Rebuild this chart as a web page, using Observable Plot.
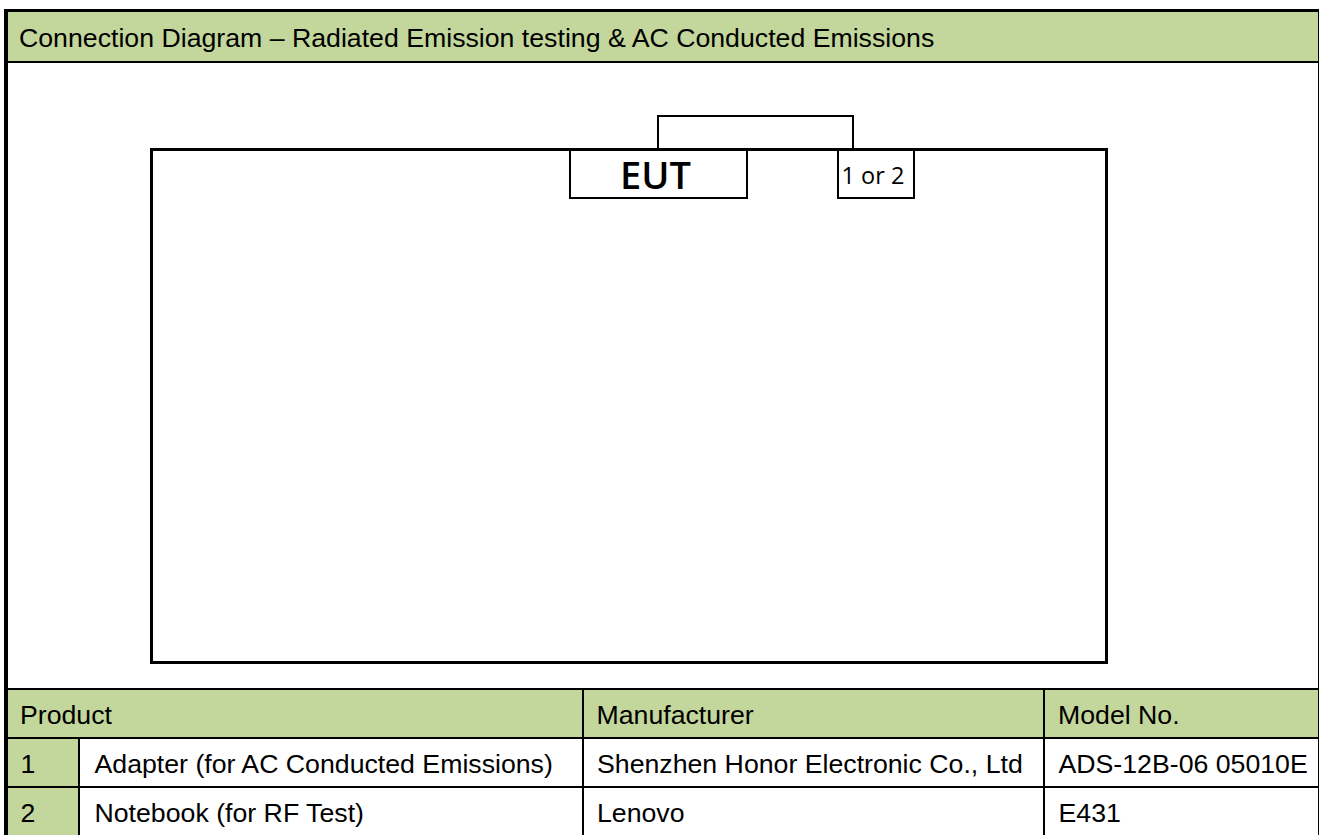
<!DOCTYPE html>
<html>
<head>
<meta charset="utf-8">
<script src="https://cdn.jsdelivr.net/npm/d3@7"></script>
<script src="https://cdn.jsdelivr.net/npm/@observablehq/plot@0.6"></script>
<style>
  html, body { margin: 0; padding: 0; background: #fff; overflow: hidden; }
  #chart svg { display: block; }
</style>
</head>
<body>
<div id="chart"></div>
<script>
// ---- DATA (text content) ----
const titleText = ["Connection Diagram – Radiated Emission testing & AC Conducted Emissions"];
const headers = ["Product", "Manufacturer", "Model No."];
const itemNos = ["1", "2"];
const products = ["Adapter (for AC Conducted Emissions)", "Notebook (for RF Test)"];
const manufacturers = ["Shenzhen Honor Electronic Co., Ltd", "Lenovo"];
const models = ["ADS-12B-06 05010E", "E431"];
const diagramLabels = ["EUT", "1 or 2"];

// ---- LAYOUT (pixel grid of the page) ----
const W = 1319, H = 835;
const GREEN = "#c3d69b";
const frame = {left: 4, leftW: 4, top: 9, topW: 3, right: 1318};
const titleBar = {y1: 12, y2: 61, lineW: 2};
const colEdges = [8, 78, 582, 1043, 1318];
const rowEdges = [688, 737, 786, 835];
const gridW = 2;
const bigBox = {x1: 150, x2: 1108, y1: 148, y2: 664, w: 3};
const eutBox = {x1: 569, x2: 748, y2: 199, w: 2};
const optBox = {x1: 837, x2: 915, y2: 199, w: 2};
const connector = {x1: 657, x2: 854, y: 115, w: 2};

const fills = [
  {x1: frame.left + frame.leftW, x2: frame.right, y1: titleBar.y1, y2: titleBar.y2},
  {x1: colEdges[0], x2: frame.right, y1: rowEdges[0], y2: rowEdges[1]},
  {x1: colEdges[0], x2: colEdges[1], y1: rowEdges[1], y2: H}
];

const lines = [];
const hl = (x1, x2, y, w) => lines.push({x1, x2, y1: y, y2: y + w});
const vl = (x, y1, y2, w) => lines.push({x1: x, x2: x + w, y1, y2});
hl(frame.left, W, frame.top, frame.topW);
vl(frame.left, frame.top, H, frame.leftW);
vl(frame.right, frame.top, H, 1);
hl(frame.left, W, titleBar.y2, titleBar.lineW);
rowEdges.slice(0, 3).forEach(y => hl(frame.left, W, y, gridW));
vl(colEdges[1], rowEdges[1], H, gridW);
vl(colEdges[2], rowEdges[0], H, gridW);
vl(colEdges[3], rowEdges[0], H, gridW);
hl(bigBox.x1, bigBox.x2, bigBox.y1, bigBox.w);
hl(bigBox.x1, bigBox.x2, bigBox.y2 - bigBox.w, bigBox.w);
vl(bigBox.x1, bigBox.y1, bigBox.y2, bigBox.w);
vl(bigBox.x2 - bigBox.w, bigBox.y1, bigBox.y2, bigBox.w);
[eutBox, optBox].forEach(b => {
  const top = bigBox.y1 + bigBox.w;
  vl(b.x1, top, b.y2, b.w);
  vl(b.x2 - b.w, top, b.y2, b.w);
  hl(b.x1, b.x2, b.y2 - b.w, b.w);
});
hl(connector.x1, connector.x2, connector.y, connector.w);
vl(connector.x1, connector.y, bigBox.y1, connector.w);
vl(connector.x2 - connector.w, connector.y, bigBox.y1, connector.w);

const FONT = "Liberation Sans, Arial, sans-serif";
const FS = 26.7;
const textRows = [
  {t: titleText[0], x: 18.5, y: 46.5},
  {t: headers[0], x: 19.5, y: 723},
  {t: headers[1], x: 596, y: 723},
  {t: headers[2], x: 1057.5, y: 723},
];
[0, 1].forEach(i => {
  const y = [772, 821.5][i];
  textRows.push({t: itemNos[i], x: 20, y});
  textRows.push({t: products[i], x: 94, y});
  textRows.push({t: manufacturers[i], x: 596.5, y});
  textRows.push({t: models[i], x: 1058, y});
});

const chart = Plot.plot({
  width: W,
  height: H,
  margin: 0,
  x: {domain: [0, W], range: [0, W], axis: null},
  y: {domain: [0, H], range: [0, H], axis: null},
  style: {background: "#fff"},
  marks: [
    Plot.rect(fills, {x1: "x1", x2: "x2", y1: "y1", y2: "y2", fill: GREEN}),
    Plot.rect(lines, {x1: "x1", x2: "x2", y1: "y1", y2: "y2", fill: "#000"}),
    Plot.text(textRows, {x: "x", y: "y", text: "t", textAnchor: "start", lineAnchor: "bottom",
      fontFamily: FONT, fontSize: FS, fill: "#000"}),
    Plot.text([diagramLabels[0]], {x: () => 655, y: () => 188, text: d => d, textAnchor: "middle",
      lineAnchor: "bottom", fontFamily: "Open Sans, sans-serif", fontWeight: 600, fontSize: 38, fill: "#000"}),
    Plot.text([diagramLabels[1]], {x: () => 841, y: () => 183, text: d => d, textAnchor: "start",
      lineAnchor: "bottom", fontFamily: "Open Sans, sans-serif", fontSize: 23.5, fill: "#000"})
  ]
});
document.getElementById("chart").appendChild(chart);
</script>
</body>
</html>
